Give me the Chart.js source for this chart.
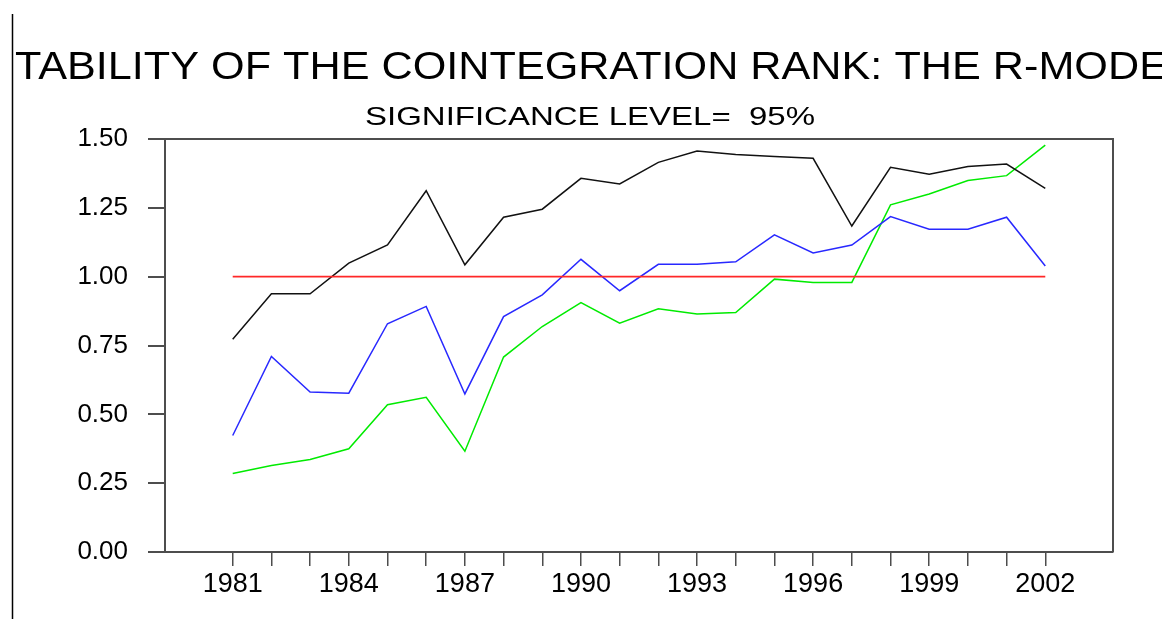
<!DOCTYPE html>
<html>
<head>
<meta charset="utf-8">
<script src="https://cdn.jsdelivr.net/npm/chart.js@4.4.1/dist/chart.umd.min.js"></script>
<style>
  html, body { margin: 0; padding: 0; background: #fff; }
  #wrap { width: 1162px; height: 619px; position: relative; }
</style>
</head>
<body>
<div id="wrap"><canvas id="rankChart"></canvas></div>
<script>
// data
const years = [1981, 1982, 1983, 1984, 1985, 1986, 1987, 1988, 1989, 1990, 1991,
  1992, 1993, 1994, 1995, 1996, 1997, 1998, 1999, 2000, 2001, 2002];
const blackSeries = [0.773, 0.938, 0.938, 1.049, 1.115, 1.312, 1.043, 1.216, 1.245, 1.357, 1.337,
  1.415, 1.456, 1.444, 1.436, 1.430, 1.184, 1.397, 1.372, 1.400, 1.409, 1.321];
const blueSeries = [0.423, 0.710, 0.581, 0.577, 0.829, 0.892, 0.574, 0.855, 0.934, 1.063, 0.949,
  1.045, 1.045, 1.054, 1.152, 1.086, 1.115, 1.218, 1.172, 1.172, 1.216, 1.039];
const greenSeries = [0.285, 0.314, 0.336, 0.375, 0.535, 0.562, 0.366, 0.708, 0.819, 0.906, 0.831,
  0.883, 0.864, 0.870, 0.991, 0.979, 0.979, 1.261, 1.300, 1.349, 1.367, 1.478];
const criticalLine = years.map(() => 1.0);
const yTicks = [0, 0.25, 0.5, 0.75, 1.0, 1.25, 1.5];
const labelEvery = 3;

const titleText = "STABILITY OF THE COINTEGRATION RANK: THE R-MODEL";
const subtitleText = "SIGNIFICANCE LEVEL=  95%";

const axisColor = "#4d4d4d";
const fontFamily = '"Liberation Sans", Arial, Helvetica, sans-serif';

const toPoints = (vals) => vals.map((v, i) => ({ x: years[i], y: v }));

// titles are drawn wide and clipped at the page edges, like the original
const titlesPlugin = {
  id: "titles",
  afterDraw(chart) {
    const ctx = chart.ctx;
    ctx.save();
    ctx.fillStyle = "#000";
    ctx.textAlign = "left";
    ctx.textBaseline = "alphabetic";

    ctx.font = "39px " + fontFamily;
    const wS = ctx.measureText(titleText.slice(0, 1)).width;
    const wPart = ctx.measureText(titleText.slice(1, -1)).width;
    const sx = (1168 - 15) / wPart;
    ctx.save();
    ctx.beginPath();
    ctx.rect(14, 0, chart.width, 100);
    ctx.clip();
    ctx.translate(15 - wS * sx, 79);
    ctx.scale(sx, 1);
    ctx.fillText(titleText, 0, 0);
    ctx.restore();

    ctx.font = "26px " + fontFamily;
    const wSub = ctx.measureText(subtitleText).width;
    ctx.save();
    ctx.translate(365, 125);
    ctx.scale(450 / wSub, 1);
    ctx.fillText(subtitleText, 0, 0);
    ctx.restore();

    // left page rule
    ctx.strokeStyle = "#000";
    ctx.lineWidth = 1.5;
    ctx.beginPath();
    ctx.moveTo(12.5, 14);
    ctx.lineTo(12.5, chart.height);
    ctx.stroke();

    // top and right sides of the frame
    const a = chart.chartArea;
    ctx.strokeStyle = axisColor;
    ctx.lineWidth = 2;
    ctx.beginPath();
    ctx.moveTo(a.left, a.top);
    ctx.lineTo(a.right, a.top);
    ctx.lineTo(a.right, a.bottom);
    ctx.stroke();
    ctx.restore();
  },
};

const ctx = document.getElementById("rankChart").getContext("2d");
const chart = new Chart(ctx, {
  type: "line",
  data: {
    datasets: [
      {
        label: "critical",
        data: toPoints(criticalLine),
        borderColor: "rgb(255,40,40)",
        borderWidth: 1.8,
      },
      {
        label: "black",
        data: toPoints(blackSeries),
        borderColor: "#111",
        borderWidth: 1.5,
      },
      {
        label: "blue",
        data: toPoints(blueSeries),
        borderColor: "rgb(40,40,255)",
        borderWidth: 1.5,
      },
      {
        label: "green",
        data: toPoints(greenSeries),
        borderColor: "rgb(0,235,0)",
        borderWidth: 1.5,
      },
    ],
  },
  options: {
    responsive: true,
    maintainAspectRatio: false,
    animation: false,
    events: [],
    elements: {
      point: { radius: 0 },
      line: { tension: 0 },
    },
    layout: { padding: { top: 139, right: 49, left: 0, bottom: 0 } },
    plugins: {
      legend: { display: false },
      title: { display: false },
      tooltip: { enabled: false },
    },
    scales: {
      x: {
        type: "linear",
        min: 1979.25,
        max: 2003.75,
        afterBuildTicks: (scale) => {
          scale.ticks = years.map((v) => ({ value: v }));
        },
        afterFit: (scale) => {
          scale.height = 67;
        },
        border: { display: true, color: axisColor, width: 2 },
        grid: {
          display: true,
          drawOnChartArea: false,
          drawTicks: true,
          tickLength: 14,
          color: axisColor,
          lineWidth: 1.5,
        },
        ticks: {
          autoSkip: false,
          maxRotation: 0,
          padding: 2,
          color: "#000",
          font: { family: fontFamily, size: 27 },
          callback: (value) =>
            (value - years[0]) % labelEvery === 0 ? String(value) : "",
        },
      },
      y: {
        min: 0,
        max: 1.5,
        afterBuildTicks: (scale) => {
          scale.ticks = yTicks.map((v) => ({ value: v }));
        },
        afterFit: (scale) => {
          scale.width = 165;
        },
        border: { display: true, color: axisColor, width: 2 },
        grid: {
          display: true,
          drawOnChartArea: false,
          drawTicks: true,
          tickLength: 17,
          color: axisColor,
          lineWidth: 2,
        },
        ticks: {
          padding: 20,
          color: "#000",
          font: { family: fontFamily, size: 26 },
          callback: (value) => value.toFixed(2),
        },
      },
    },
  },
  plugins: [titlesPlugin],
});
</script>
</body>
</html>
